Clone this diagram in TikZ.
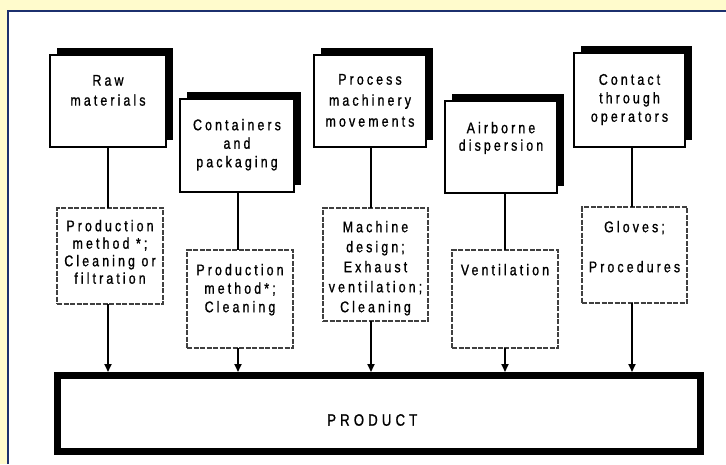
\documentclass[tikz,border=0pt]{standalone}
\usepackage{fontspec}
\setmainfont{Liberation Sans}[FakeStretch=0.8,LetterSpace=20,FakeBold=1]
\newfontfamily\prodfont{Liberation Sans}[FakeStretch=0.8,LetterSpace=25,FakeBold=1]
\usetikzlibrary{arrows.meta,shadows}
\definecolor{bgyellow}{RGB}{255,251,204}
\definecolor{panelblue}{RGB}{28,48,110}
\newcommand{\btxt}[5]{\parbox[c][#1][t]{#2}{\centering\setlength{\baselineskip}{#3}\vspace*{#4}#5\par}}
\begin{document}
\begin{tikzpicture}[x=1pt,y=-1pt,
  font=\fontsize{15.5}{19}\selectfont,
  topbox/.style={draw=black, line width=1.3pt, fill=white, inner sep=0pt, outer sep=0pt,
    drop shadow={shadow xshift=7pt, shadow yshift=7pt, opacity=1, fill=black}},
  ctrlbox/.style={draw=black!75, line width=1.1pt, dash pattern=on 5pt off 1.5pt,
    fill=white, inner sep=0pt, outer sep=0pt},
  prodbox/.style={draw=black, line width=7pt, inner sep=0pt},
  link/.style={line width=1.8pt},
  arr/.style={line width=1.8pt, -{Triangle[length=8pt,width=7pt]}}
]
\useasboundingbox (0,0) rectangle (726,464);
\fill[bgyellow] (0,0) rectangle (726,464);
\fill[white] (8,11) rectangle (726,464);
\draw[panelblue, line width=2pt] (8,464) -- (8,11) -- (726,11);

% column coordinates
\coordinate (c1) at (108,0);
\coordinate (c2) at (238,0);
\coordinate (c3) at (371,0);
\coordinate (c4) at (505,0);
\coordinate (c5) at (632,0);

% source boxes
\node[topbox] (T1) at (108,101) {\btxt{92pt}{116pt}{20pt}{20pt}{Raw\\materials}};
\node[topbox] (T2) at (237,145.5) {\btxt{93pt}{114pt}{18.5pt}{20pt}{Containers\\and\\packaging}};
\node[topbox] (T3) at (370,101) {\btxt{92pt}{112pt}{21pt}{19pt}{Process\\machinery\\movements}};
\node[topbox] (T4) at (501,147) {\btxt{92pt}{112pt}{17.5pt}{21pt}{Airborne\\dispersion}};
\node[topbox] (T5) at (629.5,100) {\btxt{94pt}{111pt}{18.5pt}{21pt}{Contact\\through\\operators}};

% control boxes
\node[ctrlbox] (D1) at (110,256) {\btxt{96pt}{106pt}{17.5pt}{12pt}{Production\\method *;\\Cleaning or\\filtration}};
\node[ctrlbox] (D2) at (240,299) {\btxt{98pt}{106pt}{18.5pt}{14pt}{Production\\method*;\\Cleaning}};
\node[ctrlbox] (D3) at (375.5,264.5) {\btxt{113pt}{105pt}{20pt}{13pt}{Machine\\design;\\Exhaust\\ventilation;\\Cleaning}};
\node[ctrlbox] (D4) at (505,299) {\btxt{98pt}{106pt}{19pt}{14pt}{Ventilation}};
\node[ctrlbox] (D5) at (634.5,255) {\btxt{96pt}{105pt}{20pt}{14pt}{Gloves;\\[20pt]Procedures}};

% product
\node[prodbox, minimum width=642.5pt, minimum height=76pt,
  label={[font=\prodfont\fontsize{16.5}{17}\selectfont, xshift=-6.5pt, yshift=-6.5pt]center:PRODUCT}]
  (P) at (378.75,413.5) {};

% connectors
\foreach \i in {1,...,5}{
  \draw[link] (T\i.south -| c\i) -- (D\i.north -| c\i);
  \draw[arr] (D\i.south -| c\i) -- (P.north -| c\i);
}
\end{tikzpicture}
\end{document}
